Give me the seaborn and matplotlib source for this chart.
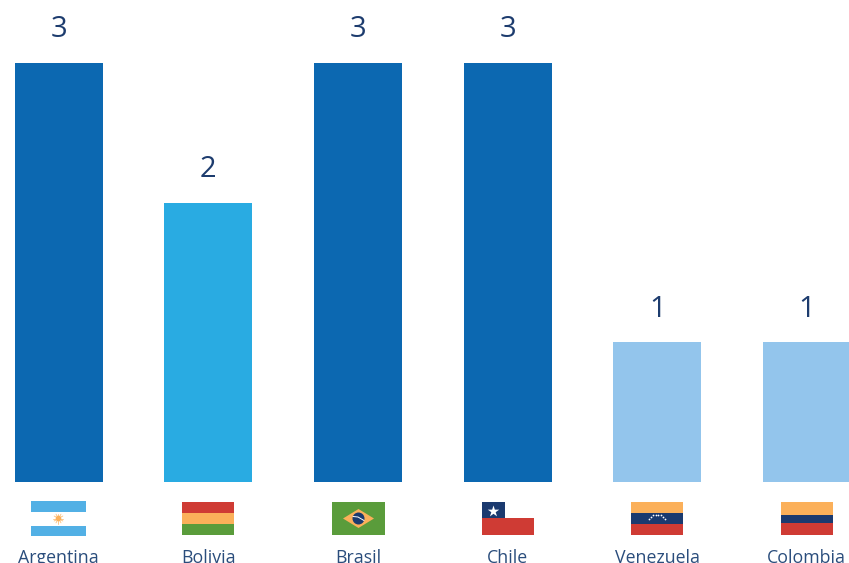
import matplotlib
matplotlib.use("Agg")
import matplotlib.pyplot as plt
from matplotlib.patches import Rectangle, Polygon, Circle
import numpy as np
import pandas as pd
import seaborn as sns

countries = ["Argentina", "Bolivia", "Brasil", "Chile", "Venezuela", "Colombia"]
counts = [3, 2, 3, 3, 1, 1]
bar_colors = ["#0C68B1", "#29ABE2", "#0C68B1", "#0C68B1", "#93C5EC", "#93C5EC"]

TEXT = "#1D3C6E"
LABEL = "#2A4D7C"
RED, ORANGE, GREEN, NAVY, SKY = "#CF3B34", "#FBB05A", "#5A9C3B", "#1B3A6F", "#52B0E5"

W, H = 849, 563
sns.set_theme(style="white")
plt.rcParams["font.family"] = ["Open Sans", "DejaVu Sans"]

fig = plt.figure(figsize=(W / 100, H / 100), dpi=100, facecolor="white")
ax = fig.add_axes([0, 0, 1, 1])

df = pd.DataFrame({"country": countries, "count": counts})
sns.barplot(data=df, x="country", y="count", hue="country", palette=bar_colors,
            order=countries, hue_order=countries, legend=False, width=0.588,
            saturation=1, linewidth=0, ax=ax)

# one category step and one count are about 150 and 140 pixels wide/tall
step, unit, x0, base = 149.6, 139.7, 58.8, 482.0
ax.set_xlim(-x0 / step, (W - x0) / step)
ax.set_ylim(-(H - base) / unit, base / unit)
ax.set_xlabel("")
ax.set_ylabel("")
ax.set_yticks([])
sns.despine(ax=ax, left=True, bottom=True)
ax.spines["bottom"].set_position(("data", 0))
ax.tick_params(axis="x", length=0, pad=48.5, labelsize=12.8, labelcolor=LABEL)

for container in ax.containers:
    ax.bar_label(container, padding=13.5, fontsize=21, color=TEXT)

# flags live in an overlay measured in pixels, y pointing down
ov = fig.add_axes([0, 0, 1, 1], facecolor="none")
ov.set_xlim(0, W)
ov.set_ylim(H, 0)
ov.axis("off")


def stripes(x, y, w, parts):
    for colour, h in parts:
        ov.add_patch(Rectangle((x, y), w, h, fc=colour, ec="none"))
        y += h


# Argentina
stripes(31, 501, 55, [(SKY, 11), ("white", 13.5), (SKY, 10.5)])
angles = np.linspace(0, 2 * np.pi, 12, endpoint=False)
for a in angles:
    ov.plot([58.5, 58.5 + 5 * np.cos(a)], [518.5, 518.5 + 5 * np.sin(a)],
            color=ORANGE, lw=0.6, alpha=0.8)
ov.add_patch(Circle((58.5, 518.5), 2.8, fc=ORANGE, ec="none"))

# Bolivia
stripes(182, 502, 52, [(RED, 11), (ORANGE, 11), (GREEN, 11)])

# Brasil
stripes(332, 502, 53, [(GREEN, 33)])
ov.add_patch(Polygon([(343, 518.5), (358.5, 509), (374, 518.5), (358.5, 528)],
                     fc=ORANGE, ec="none"))
ov.add_patch(Circle((358.5, 518.5), 6, fc=NAVY, ec="none"))
ov.plot([353, 358, 364], [516.5, 517, 520.5], color="white", lw=0.7)

# Chile
stripes(482, 518, 52, [(RED, 17)])
ov.add_patch(Rectangle((482, 502), 23, 16, fc=NAVY, ec="none"))
ov.scatter([493.5], [510.5], marker="*", s=75, color="white", linewidths=0)

# Venezuela
stripes(631, 502, 52, [(ORANGE, 11), (NAVY, 11), (RED, 11)])
arc = np.radians(np.linspace(200, 340, 8))
ov.scatter(657 + 8 * np.cos(arc), 521 + 6.5 * np.sin(arc), s=1.6,
           color="white", linewidths=0)

# Colombia
stripes(781, 502, 52, [(ORANGE, 13), (NAVY, 8), (RED, 12)])

fig.savefig("out.png", dpi=100)
